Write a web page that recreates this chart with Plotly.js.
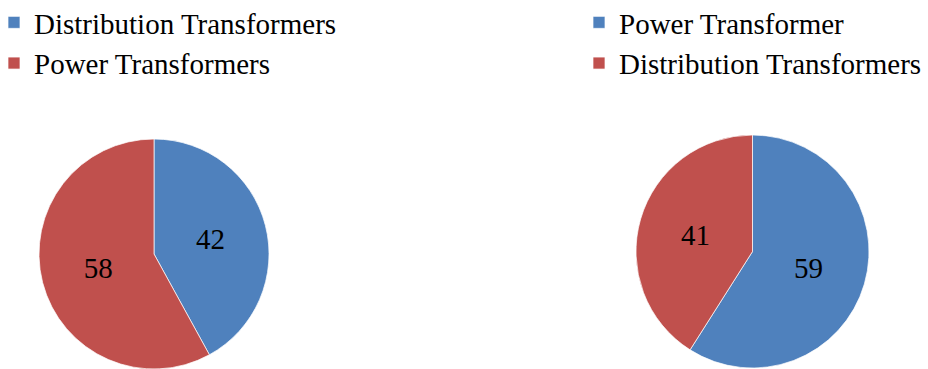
<!DOCTYPE html>
<html>
<head>
<meta charset="utf-8">
<script src="https://cdn.plot.ly/plotly-3.0.1.min.js"></script>
<style>html,body{margin:0;padding:0;background:#fff;}#chart{width:928px;height:369px;}</style>
</head>
<body>
<div id="chart"></div>
<script>
const leftLabels = ['Distribution Transformers', 'Power Transformers'];
const leftValues = [42, 58];
const rightLabels = ['Power Transformer', 'Distribution Transformers'];
const rightValues = [59, 41];
const sliceColors = ['#4F81BD', '#C0504D'];

const W = 928, H = 369;
const FONT = 'Liberation Serif';

function pieTrace(labels, values, cx, cy, r, legendId, group) {
  return {
    type: 'pie',
    labels: labels,
    values: values,
    sort: false,
    direction: 'clockwise',
    rotation: 0,
    marker: {colors: sliceColors, line: {color: '#ffffff', width: 0.7}},
    textinfo: 'value',
    textposition: 'inside',
    insidetextorientation: 'horizontal',
    textfont: {family: FONT, size: 29, color: '#000000'},
    hoverinfo: 'label+value',
    domain: {x: [(cx - r) / W, (cx + r) / W], y: [(H - cy - r) / H, (H - cy + r) / H]},
    legend: legendId,
    legendgroup: group,
    showlegend: true
  };
}

const data = [
  pieTrace(leftLabels, leftValues, 154, 254, 115, 'legend', 'left'),
  pieTrace(rightLabels, rightValues, 752.5, 251.5, 116.5, 'legend2', 'right')
];

const legendStyle = {
  font: {family: FONT, size: 29, color: '#000000'},
  bgcolor: 'rgba(0,0,0,0)',
  borderwidth: 0,
  orientation: 'v',
  xanchor: 'left',
  yanchor: 'top',
  traceorder: 'normal'
};

const layout = {
  width: W,
  height: H,
  margin: {l: 0, r: 0, t: 0, b: 0, pad: 0, autoexpand: false},
  paper_bgcolor: '#ffffff',
  plot_bgcolor: '#ffffff',
  font: {family: FONT},
  legend: Object.assign({}, legendStyle, {x: -6 / W, y: 1 + 3 / H}),
  legend2: Object.assign({}, legendStyle, {x: 579 / W, y: 1 + 3 / H})
};

Plotly.newPlot('chart', data, layout, {displayModeBar: false, staticPlot: true});
</script>
</body>
</html>
